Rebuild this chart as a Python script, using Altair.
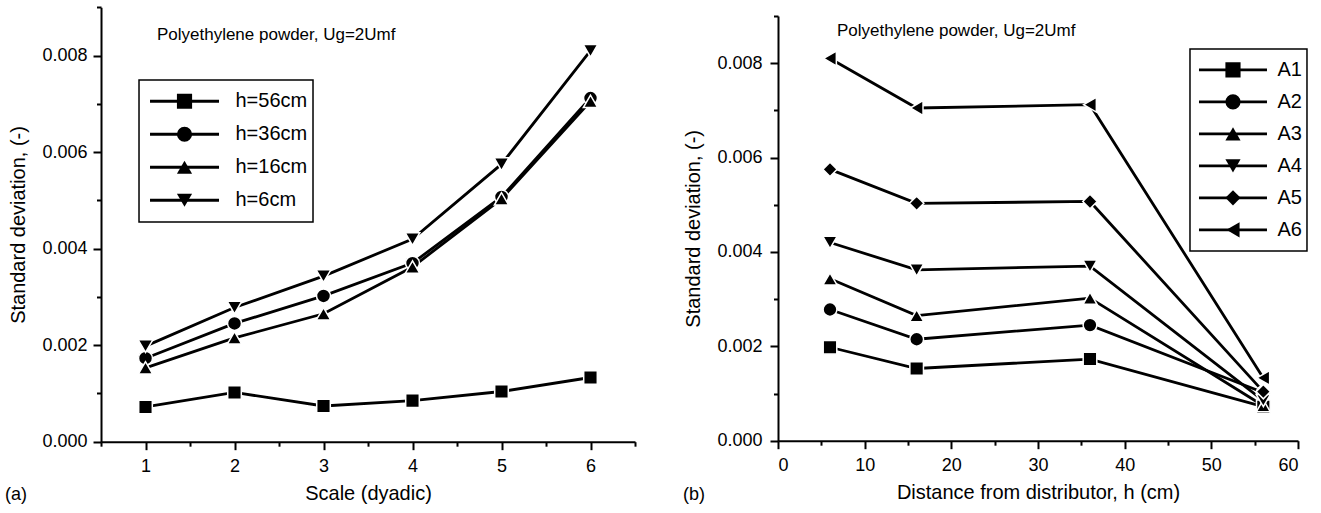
import altair as alt
import pandas as pd

FONT = "Liberation Sans"

# ---- data ----
scale_levels = [1, 2, 3, 4, 5, 6]
heights_cm = [56, 36, 16, 6]
height_labels = ["h=56cm", "h=36cm", "h=16cm", "h=6cm"]
height_shapes = ["square", "circle", "triangle-up", "triangle-down"]
height_sizes = [185, 215, 310, 310]

std_h56 = [0.00072, 0.00102, 0.00074, 0.00085, 0.00104, 0.00133]
std_h36 = [0.00173, 0.00245, 0.00302, 0.00370, 0.00507, 0.00712]
std_h16 = [0.00153, 0.00215, 0.00265, 0.00362, 0.00503, 0.00705]
std_h6 = [0.00198, 0.00278, 0.00343, 0.00420, 0.00575, 0.00810]

scale_labels = ["A1", "A2", "A3", "A4", "A5", "A6"]
scale_shapes = ["square", "circle", "triangle-up", "triangle-down", "diamond", "triangle-left"]
scale_sizes = [185, 215, 310, 310, 260, 310]

y_major = [0.0, 0.002, 0.004, 0.006, 0.008]
y_minor = [0.001, 0.003, 0.005, 0.007, 0.009]
left_x_minor = [0.5, 1.5, 2.5, 3.5, 4.5, 5.5, 6.5]
right_x_major = [0, 10, 20, 30, 40, 50, 60]
right_x_minor = [5, 15, 25, 35, 45, 55]

note_text = "Polyethylene powder, Ug=2Umf"

series_by_height = [std_h56, std_h36, std_h16, std_h6]

left_rows = []
for lab, vals in zip(height_labels, series_by_height):
    for s, v in zip(scale_levels, vals):
        left_rows.append({"scale": s, "std": v, "hl": lab, "hs": lab, "hz": lab})
left_df = pd.DataFrame(left_rows)

right_rows = []
for i, lab in enumerate(scale_labels):
    for h, vals in zip(heights_cm, series_by_height):
        right_rows.append({"h": h, "std": vals[i], "al": lab, "ash": lab, "az": lab})
right_df = pd.DataFrame(right_rows).sort_values(["al", "h"])

# ---- scales (pixel ranges place the two panels) ----
LX = alt.Scale(domain=[0.5, 6.5], range=[0, 534], nice=False, zero=False)
LY = alt.Scale(domain=[0, 0.009], range=[434.7, 0.3], nice=False, zero=False)
RX = alt.Scale(domain=[0, 60], range=[677, 1197], nice=False, zero=False)
RY = alt.Scale(domain=[0, 0.009], range=[433.7, 9], nice=False, zero=False)

MAJ = 8
MIN = 4.5
LINE_W = 2.8


def line_legend(x, y, n_size, row_h, lab_off, sym_off, pad_spaces):
    return alt.Legend(orient="none", legendX=x, legendY=y, direction="vertical",
                      title=None, symbolType="stroke", symbolSize=n_size,
                      symbolStrokeWidth=LINE_W, symbolStrokeColor="black",
                      clipHeight=row_h, rowPadding=0, padding=5, strokeColor="black",
                      labelOffset=lab_off, symbolOffset=sym_off, labelFontSize=20,
                      labelExpr="datum.label + '" + " " * pad_spaces + "'")


def shape_legend(x, y, row_h, lab_off, sym_off):
    return alt.Legend(orient="none", legendX=x, legendY=y, direction="vertical",
                      title=None, symbolSize=230, symbolFillColor="black",
                      symbolStrokeWidth=0, clipHeight=row_h, rowPadding=0,
                      padding=5, labelOffset=lab_off, symbolOffset=sym_off,
                      labelFontSize=20, labelExpr="''")


left_line = alt.Chart(left_df).mark_line(strokeWidth=LINE_W).encode(
    x=alt.X("scale:Q", scale=LX, axis=alt.Axis(values=scale_levels, format="d", orient="bottom",
                                               title="Scale (dyadic)", tickSize=MAJ, labelPadding=8,
                                               titlePadding=8)),
    y=alt.Y("std:Q", scale=LY, axis=alt.Axis(values=y_major, format=".3f", orient="left",
                                             title="Standard deviation, (-)", tickSize=MAJ,
                                             labelPadding=6, titlePadding=13)),
    color=alt.Color("hl:N", scale=alt.Scale(domain=height_labels, range=["black"] * 4),
                    legend=line_legend(38, 73, 4761, 32.5, 15, 4.5, 4)),
)

left_pts = alt.Chart(left_df).mark_point(filled=True, color="black", opacity=1,
                                         stroke="white", strokeWidth=1.5).encode(
    x=alt.X("scale:Q", scale=LX, axis=alt.Axis(values=left_x_minor, labels=False, title="",
                                               domain=False, tickSize=MIN, orient="bottom")),
    y=alt.Y("std:Q", scale=LY, axis=alt.Axis(values=y_minor, labels=False, title="",
                                             domain=False, tickSize=MIN, orient="left")),
    size=alt.Size("hz:N", scale=alt.Scale(domain=height_labels, range=height_sizes), legend=None),
    shape=alt.Shape("hs:N", scale=alt.Scale(domain=height_labels, range=height_shapes), legend=None),
)

left_key = alt.Chart(left_df).transform_filter("datum.std < 0").mark_point(
    filled=True, color="black", opacity=1, size=230
).encode(
    shape=alt.Shape("hs:N", scale=alt.Scale(domain=height_labels, range=height_shapes),
                    legend=shape_legend(38, 73, 32.5, 15, 30.5)),
)

right_line = alt.Chart(right_df).mark_line(strokeWidth=LINE_W).encode(
    x=alt.X("h:Q", scale=RX, axis=alt.Axis(values=right_x_major, format="d", orient="bottom",
                                           title="Distance from distributor, h (cm)", tickSize=MAJ,
                                           labelPadding=8, titlePadding=8, offset=-1)),
    y=alt.Y("std:Q", scale=RY, axis=alt.Axis(values=y_major, format=".3f", orient="left",
                                             title="Standard deviation, (-)", tickSize=MAJ,
                                             labelPadding=8, titlePadding=13, offset=-677)),
    color=alt.Color("al:N", scale=alt.Scale(domain=scale_labels, range=["black"] * 6),
                    legend=line_legend(1089, 42, 4624, 31.7, 9, 2.5, 3)),
)

right_pts = alt.Chart(right_df).mark_point(filled=True, color="black", opacity=1,
                                           stroke="white", strokeWidth=1.5).encode(
    x=alt.X("h:Q", scale=RX, axis=alt.Axis(values=right_x_minor, labels=False, title="",
                                           domain=False, tickSize=MIN, orient="bottom", offset=-1)),
    y=alt.Y("std:Q", scale=RY, axis=alt.Axis(values=y_minor, labels=False, title="",
                                             domain=False, tickSize=MIN, orient="left", offset=-677)),
    size=alt.Size("az:N", scale=alt.Scale(domain=scale_labels, range=scale_sizes), legend=None),
    shape=alt.Shape("ash:N", scale=alt.Scale(domain=scale_labels, range=scale_shapes), legend=None),
)

right_key = alt.Chart(right_df).transform_filter("datum.std < 0").mark_point(
    filled=True, color="black", opacity=1, size=230
).encode(
    shape=alt.Shape("ash:N", scale=alt.Scale(domain=scale_labels, range=scale_shapes),
                    legend=shape_legend(1089, 42, 31.7, 9, 28)),
)


def label(text, x, y, size, baseline="alphabetic"):
    return alt.Chart(pd.DataFrame({"t": [text]})).mark_text(
        align="left", baseline=baseline, font=FONT, fontSize=size, color="black"
    ).encode(text="t:N", x=alt.value(x), y=alt.value(y))


note_left = label(note_text, 56, 33.5, 17)
note_right = label(note_text, 736, 29, 17)
tag_a = label("(a)", -96, 488, 18, "middle")
tag_b = label("(b)", 582, 488, 18, "middle")

chart = alt.layer(
    left_line, left_pts, left_key, right_line, right_pts, right_key,
    note_left, note_right, tag_a, tag_b
).resolve_scale(
    x="independent", y="independent", color="independent", shape="independent",
    size="independent"
).resolve_axis(
    x="independent", y="independent"
).resolve_legend(
    color="independent", shape="independent"
).properties(
    width=1197, height=434.7,
    padding={"left": 101, "top": 7, "right": 23, "bottom": 71},
    autosize=alt.AutoSizeParams(type="none"),
).configure_view(
    stroke="transparent"
).configure_axis(
    domainColor="black", domainWidth=2, tickColor="black", tickWidth=2,
    labelFont=FONT, labelFontSize=18, labelColor="black",
    titleFont=FONT, titleFontSize=20, titleFontWeight="normal", titleColor="black",
    grid=False,
).configure_legend(
    labelFont=FONT, labelFontSize=20, labelColor="black", strokeWidth=1.5
)

chart.save("out.html", embed_options={"renderer": "svg", "actions": False})
